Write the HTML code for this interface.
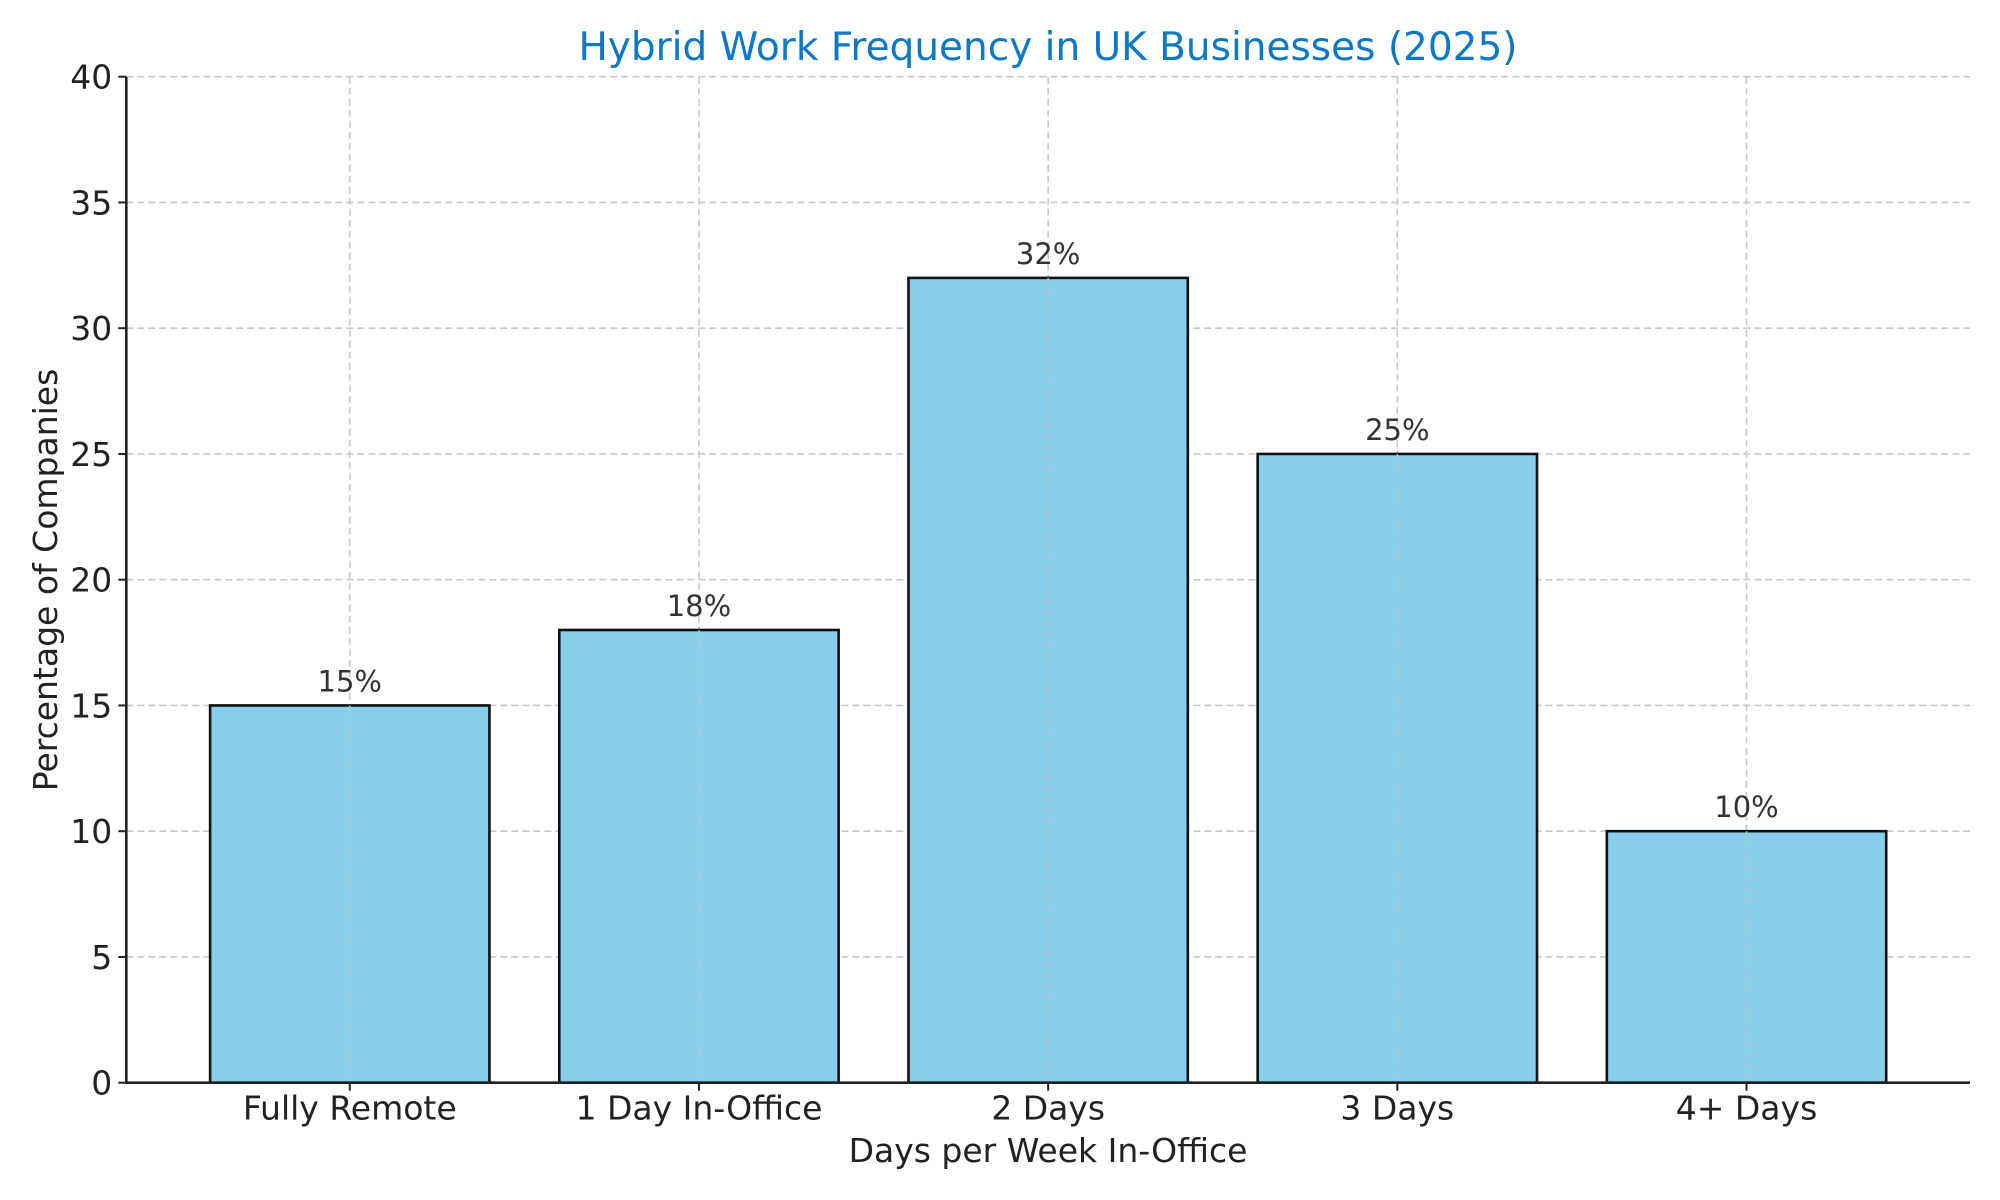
<!DOCTYPE html>
<html><head><meta charset="utf-8"><style>
html,body{margin:0;padding:0;background:#fff;}
svg{display:block;font-family:"DejaVu Sans","Liberation Sans",sans-serif;}
</style></head><body>
<svg id="chart" width="2000" height="1200" viewBox="0 0 2000 1200" xmlns="http://www.w3.org/2000/svg">
<rect width="2000" height="1200" fill="#fff"/>
<text x="1048" y="60" text-anchor="middle" font-size="39" fill="#0b78c8">Hybrid Work Frequency in UK Businesses (2025)</text>
<g id="grid"></g>
<g id="bars"></g>
<g id="axes"></g>
<text x="1048" y="1162" text-anchor="middle" font-size="33" fill="#222">Days per Week In-Office</text>
<text transform="translate(57,580) rotate(-90)" text-anchor="middle" font-size="33" fill="#222">Percentage of Companies</text>
</svg>
<script>
const categories = ["Fully Remote", "1 Day In-Office", "2 Days", "3 Days", "4+ Days"];
const values = [15, 18, 32, 25, 10];
const yTicks = [0, 5, 10, 15, 20, 25, 30, 35, 40];
const valueLabels = ["15%", "18%", "32%", "25%", "10%"];

const NS = "http://www.w3.org/2000/svg";
const pL = 126.3, pR = 1970, pT = 76.7, pB = 1082.7;
const xMin = -0.64, xMax = 4.64, yMin = 0, yMax = 40;
function xS(i){ return pL + (i - xMin) / (xMax - xMin) * (pR - pL); }
function yS(v){ return pB - (v - yMin) / (yMax - yMin) * (pB - pT); }
const bw = 0.8 * (xS(1) - xS(0));
function mk(tag, attrs, parent){ const e = document.createElementNS(NS, tag); for (const k in attrs) e.setAttribute(k, attrs[k]); parent.appendChild(e); return e; }
const grid = document.getElementById('grid'), barsG = document.getElementById('bars'), axes = document.getElementById('axes');

yTicks.forEach(t => {
  const y = yS(t);
  const g = mk('line', {x1:pL, x2:pR, y1:y, y2:y, stroke:'#c8c8c8', 'stroke-width':1.6, 'stroke-dasharray':'7,4'}, grid);
  
  
  const tk = mk('line', {x1:pL-8, x2:pL, y1:y, y2:y, stroke:'#222', 'stroke-width':2}, axes);
  
  
  const lb = mk('text', {x:pL-14, y:y+12, 'text-anchor':'end', 'font-size':33, fill:'#222'}, axes);
  lb.textContent = t;
  
  
});
categories.forEach((c, i) => {
  const x = xS(i);
  const g = mk('line', {x1:x, x2:x, y1:pT, y2:pB, stroke:'#c8c8c8', 'stroke-width':1.6, 'stroke-dasharray':'7,4'}, grid);
  
  
  const r = mk('rect', {x:x-bw/2, y:yS(values[i]), width:bw, height:yS(0)-yS(values[i]), fill:'#87ceeb', stroke:'#111', 'stroke-width':2.6}, barsG);
  
  
  const vg = mk('line', {x1:x, x2:x, y1:yS(values[i]), y2:pB, stroke:'#b8c4cc', 'stroke-width':1.4, 'stroke-dasharray':'7,4'}, barsG);
  
  
  const vl = mk('text', {x:x, y:yS(values[i])-14, 'text-anchor':'middle', 'font-size':29, fill:'#333'}, barsG);
  vl.textContent = valueLabels[i];
  
  
  const tk = mk('line', {x1:x, x2:x, y1:pB, y2:pB+8, stroke:'#222', 'stroke-width':2}, axes);
  
  
  const lb = mk('text', {x:x, y:pB+37, 'text-anchor':'middle', 'font-size':33, fill:'#222'}, axes);
  lb.textContent = c;
  
  
});
const ya = mk('line', {x1:pL, x2:pL, y1:pT, y2:pB, stroke:'#222', 'stroke-width':2.6}, axes);


const xa = mk('line', {x1:pL-1, x2:pR, y1:pB, y2:pB, stroke:'#222', 'stroke-width':2.6}, axes);


</script>
</body></html>
